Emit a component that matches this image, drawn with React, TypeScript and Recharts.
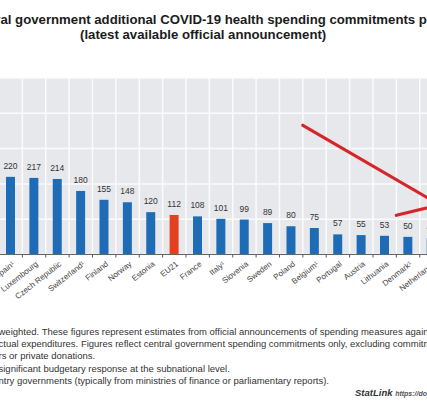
import { BarChart, Bar, XAxis, YAxis, CartesianGrid, Cell, LabelList, ReferenceLine } from 'recharts';

// Per-capita commitments (EUR), sorted high to low
const countries = [
  'Spain¹', 'Luxembourg', 'Czech Republic', 'Switzerland¹', 'Finland', 'Norway', 'Estonia', 'EU21',
  'France', 'Italy¹', 'Slovenia', 'Sweden', 'Poland', 'Belgium¹', 'Portugal', 'Austria',
  'Lithuania', 'Denmark¹', 'Netherlands',
];
const spending = [220, 217, 214, 180, 155, 148, 120, 112, 108, 101, 99, 89, 80, 75, 57, 55, 53, 50, 46];
const averageLabel = 'EU21';

const yTicks = [0, 100, 200, 300, 400, 500];

// Hand-drawn red annotation strokes, anchored on the right edge of each column
const arrowStrokes = [
  { from: 'Poland', y1: 366, to: 'Netherlands', y2: 135 },
  { from: 'Lithuania', y1: 111, to: 'Netherlands', y2: 143 },
];

const footnotes = [
  'weighted. These figures represent estimates from official announcements of spending measures against COVID-19',
  'ctual expenditures. Figures reflect central government spending commitments only, excluding commitments',
  'rs or private donations.',
  'significant budgetary response at the subnational level.',
  'ntry governments (typically from ministries of finance or parliamentary reports).',
];

const data = countries.map((name, i) => ({ name, value: spending[i] }));

const FONT = "'Liberation Sans', Arial, sans-serif";
const BLUE = '#1f6cb6';
const RED = '#e4401f';

// rotated country name plus a small tick mark on the left column boundary
const CountryTick = ({ x, y, payload }: any) => {
  const half = typeof payload?.offset === 'number' ? payload.offset : 0;
  return (
    <g>
      {half > 0 && <line x1={x - half} x2={x - half} y1={y} y2={y + 3} stroke="#555" />}
      <g transform={`translate(${x + 4.5},${y + 10.5})`}>
        <text textAnchor="end" transform="rotate(-38)" fontSize={8} fill="#444" fontFamily={FONT}>
          {payload.value}
        </text>
      </g>
    </g>
  );
};

export default function App() {
  return (
    <div
      style={{
        position: 'fixed',
        left: 0,
        top: 0,
        width: 427,
        height: 408,
        overflow: 'hidden',
        background: '#fff',
        fontFamily: FONT,
      }}
    >
      <div style={{ position: 'absolute', left: -1.09, top: 0 }}>
        <BarChart
          width={444.1}
          height={408}
          data={data}
          margin={{ top: 78, right: 0, bottom: 93.5, left: 0 }}
        >
          <CartesianGrid
            vertical={false}
            fill="#e7e8ec"
            stroke="#fbfbfc"
            strokeWidth={1.5}
            fillOpacity={1}
          />
          <XAxis
            dataKey="name"
            interval={0}
            height={60}
            tickLine={false}
            axisLine={{ stroke: '#666', strokeWidth: 1.2 }}
            tickSize={0}
            tickMargin={0}
            tick={<CountryTick />}
          />
          <YAxis hide domain={[0, 500]} ticks={yTicks} />
          {countries.map((c) => (
            <ReferenceLine key={`sep-${c}`} x={c} position="start" stroke="#fbfbfc" strokeWidth={1.5} />
          ))}
          <Bar dataKey="value" barSize={9} isAnimationActive={false}>
            {data.map((d) => (
              <Cell key={d.name} fill={d.name === averageLabel ? RED : BLUE} />
            ))}
            <LabelList
              dataKey="value"
              position="top"
              offset={8}
              fontSize={8.5}
              fill="#333"
              fontFamily={FONT}
            />
          </Bar>
          {arrowStrokes.map((a, i) => (
            <ReferenceLine
              key={i}
              position="end"
              segment={[
                { x: a.from, y: a.y1 },
                { x: a.to, y: a.y2 },
              ]}
              stroke="#d5262a"
              strokeWidth={3.2}
              strokeLinecap="round"
              ifOverflow="visible"
            />
          ))}
        </BarChart>
      </div>

      <div
        style={{
          position: 'absolute',
          left: -34,
          top: 12.5,
          whiteSpace: 'nowrap',
          fontSize: 13.2,
          lineHeight: '13px',
          fontWeight: 'bold',
          color: '#1c1c1c',
        }}
      >
        Central government additional COVID-19 health spending commitments per capita
      </div>
      <div
        style={{
          position: 'absolute',
          left: 80,
          top: 28,
          whiteSpace: 'nowrap',
          fontSize: 13.2,
          lineHeight: '13px',
          fontWeight: 'bold',
          color: '#1c1c1c',
        }}
      >
        (latest available official announcement)
      </div>

      <div
        style={{
          position: 'absolute',
          left: -1.5,
          top: 326,
          whiteSpace: 'nowrap',
          fontSize: 9.5,
          lineHeight: '12.2px',
          color: '#333',
        }}
      >
        {footnotes.map((line) => (
          <div key={line}>{line}</div>
        ))}
      </div>

      <div
        style={{
          position: 'absolute',
          left: 355,
          top: 387,
          whiteSpace: 'nowrap',
          fontSize: 9.5,
          lineHeight: '12px',
          fontWeight: 'bold',
          fontStyle: 'italic',
          color: '#333',
        }}
      >
        StatLink <span style={{ fontSize: 7, color: '#555' }}>https://doi.org/10.1787/</span>
      </div>
    </div>
  );
}
